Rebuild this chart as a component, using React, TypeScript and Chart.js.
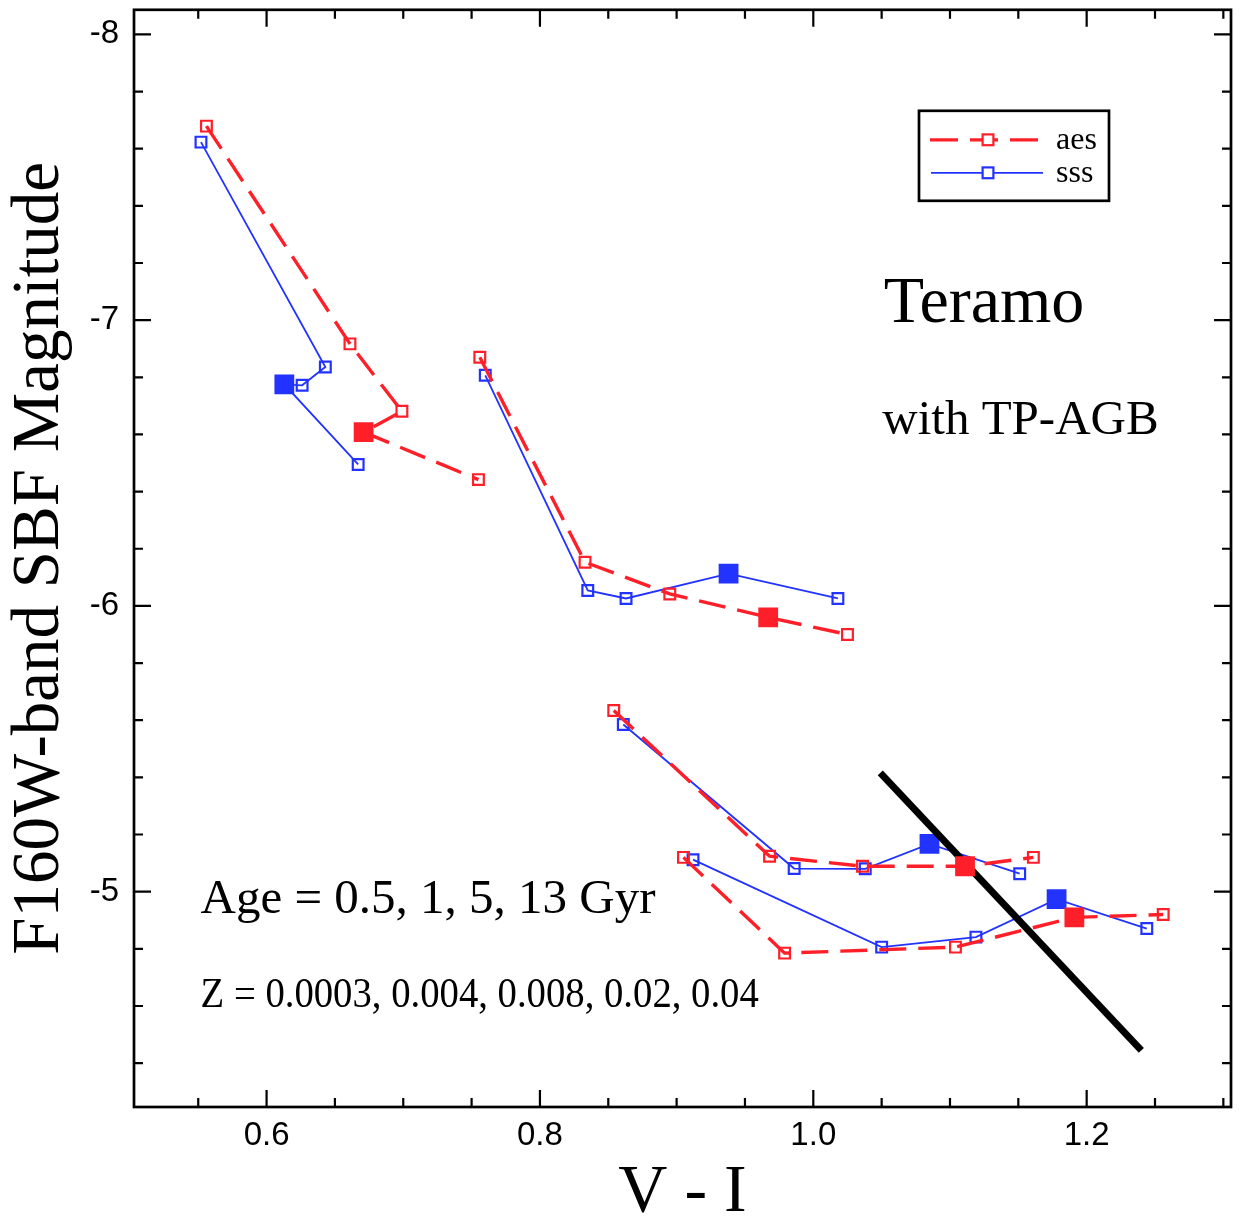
import React, { useEffect, useRef } from 'react';
import { Chart, registerables } from 'chart.js';

Chart.register(...registerables);

// ---- Data ----
// Each series: 5 metallicities Z = 0.0003, 0.004, 0.008, 0.02, 0.04 (Z = 0.02 drawn filled)
const zValues = ['0.0003', '0.004', '0.008', '0.02', '0.04'];
const ageLabels = ['0.5', '1', '5', '13'];
const filledIndex = 3;

// aes models (red, dashed)
const aesAge05X = [0.556, 0.661, 0.699, 0.671, 0.755];
const aesAge05Y = [-7.679, -6.917, -6.681, -6.608, -6.442];
const aesAge1X = [0.756, 0.833, 0.895, 0.967, 1.025];
const aesAge1Y = [-6.870, -6.153, -6.042, -5.960, -5.900];
const aesAge5X = [0.854, 0.968, 1.036, 1.111, 1.161];
const aesAge5Y = [-5.634, -5.124, -5.089, -5.089, -5.120];
const aesAge13X = [0.905, 0.979, 1.104, 1.191, 1.256];
const aesAge13Y = [-5.120, -4.785, -4.806, -4.910, -4.920];

// sss models (blue, solid)
const sssAge05X = [0.552, 0.643, 0.626, 0.613, 0.667];
const sssAge05Y = [-7.623, -6.836, -6.772, -6.775, -6.495];
const sssAge1X = [0.760, 0.835, 0.863, 0.938, 1.018];
const sssAge1Y = [-6.807, -6.054, -6.026, -6.113, -6.026];
const sssAge5X = [0.861, 0.986, 1.038, 1.085, 1.151];
const sssAge5Y = [-5.585, -5.081, -5.080, -5.167, -5.063];
const sssAge13X = [0.912, 1.050, 1.119, 1.178, 1.244];
const sssAge13Y = [-5.112, -4.806, -4.841, -4.974, -4.871];

// black reference line
const refLineX = [1.049, 1.240];
const refLineY = [-5.416, -4.445];

// ticks
const xMajorTicks = [0.6, 0.8, 1.0, 1.2];
const xTickLabels = ['0.6', '0.8', '1.0', '1.2'];
const xMinorTicks = [0.55, 0.65, 0.7, 0.75, 0.85, 0.9, 0.95, 1.05, 1.1, 1.15, 1.25, 1.3];
const yMajorTicks = [-8, -7, -6, -5];
const yTickLabels = ['-8', '-7', '-6', '-5'];
const yMinorTicks = [-7.8, -7.6, -7.4, -7.2, -6.8, -6.6, -6.4, -6.2, -5.8, -5.6, -5.4, -5.2, -4.8, -4.6, -4.4];

const legendNames = ['aes', 'sss'];
const titleText = 'Teramo';
const subtitleText = 'with TP-AGB';
const ageText = 'Age = ' + ageLabels.join(', ') + ' Gyr';
const zText = 'Z = ' + zValues.join(', ');

const RED = '#ff1f28';
const BLUE = '#2233ff';
const SERIF = '"Liberation Serif", "Times New Roman", Times, serif';
const SANS = '"Liberation Sans", Arial, Helvetica, sans-serif';
const RED_DASH = [27, 12];

function series(label: string, xs: number[], ys: number[], color: string, dashed: boolean) {
  return {
    label,
    data: xs.map((x, i) => ({ x, y: ys[i] })),
    showLine: true,
    borderColor: color,
    backgroundColor: color,
    borderWidth: dashed ? 3.4 : 1.8,
    borderDash: dashed ? RED_DASH : [],
    borderCapStyle: 'butt',
    pointStyle: 'rect',
    pointRadius: xs.map((_, i) => (i === filledIndex ? 14 : 7.6)),
    pointHoverRadius: xs.map((_, i) => (i === filledIndex ? 14 : 7.6)),
    pointBorderWidth: xs.map((_, i) => (i === filledIndex ? 0 : 2.2)),
    pointBorderColor: color,
    pointBackgroundColor: xs.map((_, i) => (i === filledIndex ? color : 'rgba(255,255,255,0)')),
    tension: 0,
    order: dashed ? 0 : 2,
  };
}

const framePlugin = {
  id: 'framePlugin',
  afterDraw(chart: any) {
    const { ctx, chartArea: a, scales } = chart;
    const xs = scales.x;
    const ys = scales.y;
    ctx.save();
    ctx.strokeStyle = '#000';
    ctx.fillStyle = '#000';
    ctx.lineCap = 'butt';
    ctx.setLineDash([]);

    // inward ticks on all four sides
    ctx.lineWidth = 2.2;
    const drawX = (vals: number[], len: number) => {
      vals.forEach((v) => {
        const p = xs.getPixelForValue(v);
        ctx.beginPath();
        ctx.moveTo(p, a.bottom);
        ctx.lineTo(p, a.bottom - len);
        ctx.moveTo(p, a.top);
        ctx.lineTo(p, a.top + len);
        ctx.stroke();
      });
    };
    const drawY = (vals: number[], len: number) => {
      vals.forEach((v) => {
        const p = ys.getPixelForValue(v);
        ctx.beginPath();
        ctx.moveTo(a.left, p);
        ctx.lineTo(a.left + len, p);
        ctx.moveTo(a.right, p);
        ctx.lineTo(a.right - len, p);
        ctx.stroke();
      });
    };
    drawX(xMajorTicks, 17);
    drawX(xMinorTicks, 9);
    drawY(yMajorTicks, 17);
    drawY(yMinorTicks, 9);

    // frame
    ctx.lineWidth = 2.7;
    ctx.strokeRect(a.left, a.top, a.right - a.left, a.bottom - a.top);

    // annotation texts
    ctx.textAlign = 'left';
    ctx.textBaseline = 'alphabetic';
    ctx.font = `66px ${SERIF}`;
    ctx.fillText(titleText, xs.getPixelForValue(1.0515), ys.getPixelForValue(-6.993));
    ctx.font = `49px ${SERIF}`;
    ctx.fillText(subtitleText, xs.getPixelForValue(1.0505), ys.getPixelForValue(-6.602));
    ctx.fillText(ageText, xs.getPixelForValue(0.5517), ys.getPixelForValue(-4.925));
    ctx.save();
    ctx.translate(xs.getPixelForValue(0.5517), ys.getPixelForValue(-4.596));
    ctx.scale(0.9, 1);
    ctx.font = `43px ${SERIF}`;
    ctx.fillText(zText, 0, 0);
    ctx.restore();

    // legend box
    const lx = a.right - 312;
    const ly = a.top + 101;
    ctx.lineWidth = 2.7;
    ctx.strokeStyle = '#000';
    ctx.strokeRect(lx, ly, 190, 90);
    const entries = [
      { name: legendNames[0], color: RED, dash: [28, 12], width: 3.2, y: ly + 29, x0: lx + 11, x1: lx + 119 },
      { name: legendNames[1], color: BLUE, dash: [], width: 1.8, y: ly + 62, x0: lx + 12, x1: lx + 124 },
    ];
    entries.forEach((e) => {
      ctx.strokeStyle = e.color;
      ctx.lineWidth = e.width;
      ctx.setLineDash(e.dash);
      ctx.beginPath();
      ctx.moveTo(e.x0, e.y);
      ctx.lineTo(e.x1, e.y);
      ctx.stroke();
      ctx.setLineDash([]);
      ctx.lineWidth = 2.2;
      const mx = lx + 69;
      ctx.fillStyle = '#fff';
      ctx.fillRect(mx - 5.4, e.y - 5.4, 10.8, 10.8);
      ctx.strokeRect(mx - 5.4, e.y - 5.4, 10.8, 10.8);
      ctx.fillStyle = '#000';
      ctx.font = `32px ${SERIF}`;
      ctx.fillText(e.name, lx + 137, e.y + 9);
    });
    ctx.restore();
  },
};

export default function App() {
  const ref = useRef<HTMLCanvasElement | null>(null);

  useEffect(() => {
    document.body.style.margin = '0';
    const canvas = ref.current;
    if (!canvas) return;

    const datasets: any[] = [
      series('aes 0.5 Gyr', aesAge05X, aesAge05Y, RED, true),
      series('aes 1 Gyr', aesAge1X, aesAge1Y, RED, true),
      series('aes 5 Gyr', aesAge5X, aesAge5Y, RED, true),
      series('aes 13 Gyr', aesAge13X, aesAge13Y, RED, true),
      series('sss 0.5 Gyr', sssAge05X, sssAge05Y, BLUE, false),
      series('sss 1 Gyr', sssAge1X, sssAge1Y, BLUE, false),
      series('sss 5 Gyr', sssAge5X, sssAge5Y, BLUE, false),
      series('sss 13 Gyr', sssAge13X, sssAge13Y, BLUE, false),
      {
        label: 'limit',
        data: refLineX.map((x, i) => ({ x, y: refLineY[i] })),
        showLine: true,
        borderColor: '#000',
        borderWidth: 7,
        borderCapStyle: 'butt',
        pointRadius: 0,
        pointHoverRadius: 0,
        tension: 0,
        order: 1,
      },
    ];

    const chart = new Chart(canvas, {
      type: 'scatter',
      data: { datasets },
      options: {
        animation: false,
        responsive: false,
        maintainAspectRatio: false,
        events: [],
        layout: { padding: { top: 9, right: 12, left: 0, bottom: 0 } },
        plugins: {
          legend: { display: false },
          tooltip: { enabled: false },
          title: { display: false },
        },
        scales: {
          x: {
            type: 'linear',
            position: 'bottom',
            min: 0.503,
            max: 1.3056,
            grid: { display: false, drawTicks: false },
            border: { display: false },
            ticks: {
              autoSkip: false,
              maxRotation: 0,
              padding: 9,
              color: '#000',
              font: { family: SANS, size: 33 },
              callback: (_v: any, i: number) => xTickLabels[i],
            },
            afterBuildTicks: (s: any) => {
              s.ticks = xMajorTicks.map((v) => ({ value: v }));
            },
            afterFit: (s: any) => {
              s.height = 112;
              s.paddingLeft = 0;
              s.paddingRight = 0;
              s.paddingTop = 0;
              s.paddingBottom = 0;
            },
            title: {
              display: true,
              text: 'V - I',
              color: '#000',
              font: { family: SERIF, size: 68, lineHeight: 0.75 },
              padding: 0,
            },
          },
          y: {
            type: 'linear',
            position: 'left',
            reverse: true,
            min: -8.086,
            max: -4.2465,
            grid: { display: false, drawTicks: false },
            border: { display: false },
            ticks: {
              autoSkip: false,
              padding: 15,
              color: '#000',
              font: { family: SANS, size: 33 },
              callback: (_v: any, i: number) => yTickLabels[i],
            },
            afterBuildTicks: (s: any) => {
              s.ticks = yMajorTicks.map((v) => ({ value: v }));
            },
            afterFit: (s: any) => {
              s.width = 134;
              s.paddingLeft = 0;
              s.paddingRight = 0;
              s.paddingTop = 0;
              s.paddingBottom = 0;
            },
            title: {
              display: true,
              text: 'F160W-band SBF Magnitude',
              color: '#000',
              font: { family: SERIF, size: 67, lineHeight: 1.2 },
              padding: 0,
            },
          },
        },
      } as any,
      plugins: [framePlugin],
    });

    return () => chart.destroy();
  }, []);

  return (
    <div style={{ width: 1243, height: 1219, background: '#fff' }}>
      <canvas ref={ref} width={1243} height={1219} style={{ display: 'block' }} />
    </div>
  );
}
